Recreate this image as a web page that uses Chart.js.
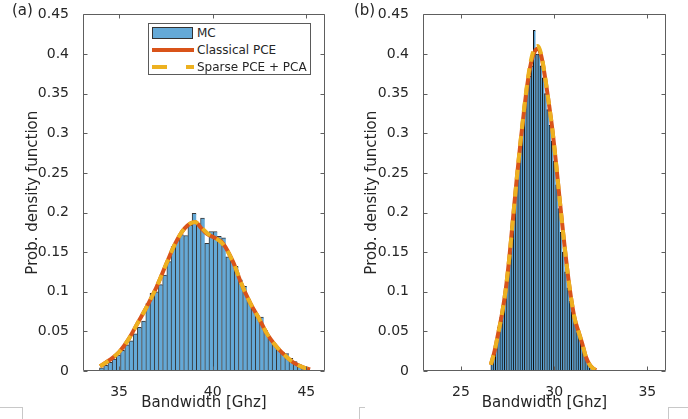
<!DOCTYPE html>
<html>
<head>
<meta charset="utf-8">
<script src="https://cdn.jsdelivr.net/npm/chart.js@4.4.0/dist/chart.umd.min.js"></script>
<style>
html,body{margin:0;padding:0;background:#fff;}
body{width:688px;height:419px;overflow:hidden;position:relative;font-family:"DejaVu Sans",sans-serif;color:#262626;}
.panel{position:absolute;top:0;width:344px;height:419px;}
.plabel{position:absolute;top:1px;font-size:15px;line-height:18px;color:#262626;}
.legend{position:absolute;left:148px;top:23px;width:163px;height:52px;border:1px solid #5a5a5a;background:#fff;box-sizing:border-box;font-size:12px;color:#262626;}
.row{position:absolute;left:0;height:17px;width:100%;}
.row span{position:absolute;left:48px;top:0;line-height:17px;white-space:nowrap;}
.sw{position:absolute;}
.crop{position:absolute;border-color:#c8c8c8;border-style:solid;border-width:0;}
</style>
</head>
<body>
<div class="panel" style="left:0"><canvas id="ca" width="344" height="419"></canvas></div>
<div class="panel" style="left:344px"><canvas id="cb" width="344" height="419"></canvas></div>
<div class="plabel" style="left:12px">(a)</div>
<div class="plabel" style="left:354px">(b)</div>
<div class="legend">
  <div class="row" style="top:1px"><div class="sw" style="left:3px;top:2px;width:41px;height:12px;background:rgb(100,169,215);border:1px solid #333;box-sizing:border-box"></div><span>MC</span></div>
  <div class="row" style="top:18px"><div class="sw" style="left:3px;top:6px;width:42px;height:4px;background:#D95319"></div><span>Classical PCE</span></div>
  <div class="row" style="top:35px"><div class="sw" style="left:3px;top:6px;width:15px;height:4px;background:#EDB120"></div><div class="sw" style="left:37px;top:6px;width:8px;height:4px;background:#EDB120"></div><span>Sparse PCE + PCA</span></div>
</div>
<div class="crop" style="left:0;top:407px;width:22px;height:12px;border-top-width:1px;border-right-width:1px"></div>
<div class="crop" style="left:359px;top:407px;width:5px;height:12px;border-top-width:1px;border-left-width:1px"></div>
<div class="crop" style="left:668px;top:407px;width:20px;height:12px;border-top-width:1px;border-left-width:1px"></div>
<script>
// ---------- data ----------
const xLabel = 'Bandwidth [Ghz]';
const yLabel = 'Prob. density function';
const yTicks = [0, 0.05, 0.1, 0.15, 0.2, 0.25, 0.3, 0.35, 0.4, 0.45];

// (a)
const xTicksA = [35, 40, 45];
const binCentersA = [34.0625,34.2875,34.5125,34.7375,34.9625,35.1875,35.4125,35.6375,35.8625,36.0875,
  36.3125,36.5375,36.7625,36.9875,37.2125,37.4375,37.6625,37.8875,38.1125,38.3375,
  38.5625,38.7875,39.0125,39.2375,39.4625,39.6875,39.9125,40.1375,40.3625,40.5875,
  40.8125,41.0375,41.2625,41.4875,41.7125,41.9375,42.1625,42.3875,42.6125,42.8375,
  43.0625,43.2875,43.5125,43.7375,43.9625,44.1875,44.4125,44.6375,44.8625,45.0875];
const mcA = [0.004,0.007,0.011,0.015,0.020,0.026,0.033,0.038,0.047,0.055,
  0.063,0.085,0.098,0.100,0.109,0.121,0.138,0.157,0.165,0.172,
  0.171,0.184,0.199,0.186,0.193,0.161,0.176,0.176,0.170,0.168,
  0.144,0.140,0.132,0.115,0.107,0.090,0.078,0.070,0.068,0.051,
  0.041,0.034,0.028,0.024,0.022,0.016,0.012,0.008,0.005,0.002];
const curveXA = [33.98,34.5,35.0,35.5,36.0,36.5,37.0,37.5,38.0,38.5,39.06,39.4,39.7,40.2,40.55,41.1,41.5,42.0,42.5,42.9,43.4,43.8,44.3,44.8,45.2];
const classicalA = [0.006,0.014,0.024,0.040,0.061,0.082,0.106,0.134,0.161,0.180,0.188,0.180,0.173,0.167,0.161,0.137,0.112,0.086,0.065,0.047,0.031,0.021,0.011,0.005,0.002];
const sparseA    = [0.006,0.014,0.024,0.040,0.061,0.082,0.106,0.134,0.161,0.180,0.188,0.181,0.174,0.167,0.160,0.137,0.112,0.086,0.065,0.047,0.031,0.021,0.011,0.005,0.002];

// (b)
const xTicksB = [25, 30, 35];
const binCentersB = [26.66,26.78,26.90,27.02,27.14,27.26,27.38,27.50,27.62,27.74,
  27.86,27.98,28.10,28.22,28.34,28.46,28.58,28.70,28.82,28.94,
  29.06,29.18,29.30,29.42,29.54,29.66,29.78,29.90,30.02,30.14,
  30.26,30.38,30.50,30.62,30.74,30.86,30.98,31.10,31.22,31.34,
  31.46,31.58,31.70,31.82,31.94];
const mcB = [0.012,0.025,0.040,0.055,0.068,0.083,0.100,0.122,0.150,0.183,
  0.213,0.240,0.266,0.293,0.320,0.345,0.365,0.372,0.385,0.430,
  0.400,0.400,0.385,0.370,0.350,0.330,0.310,0.290,0.265,0.235,
  0.205,0.175,0.150,0.125,0.105,0.088,0.075,0.065,0.055,0.045,
  0.036,0.025,0.016,0.009,0.004];
const curveXB = [26.6,26.8,27.0,27.2,27.4,27.6,27.8,28.0,28.2,28.4,28.6,28.8,29.0,29.12,29.3,29.5,29.7,29.9,30.1,30.3,30.5,30.7,30.9,31.1,31.3,31.5,31.7,31.9,32.1,32.25];
const classicalB = [0.008,0.025,0.048,0.072,0.103,0.145,0.195,0.245,0.290,0.332,0.368,0.393,0.405,0.407,0.398,0.372,0.340,0.305,0.262,0.215,0.170,0.128,0.093,0.066,0.050,0.035,0.018,0.008,0.003,0.001];
const sparseB    = [0.008,0.025,0.048,0.072,0.103,0.145,0.195,0.245,0.291,0.334,0.371,0.397,0.409,0.410,0.400,0.373,0.340,0.305,0.262,0.215,0.170,0.128,0.093,0.066,0.050,0.035,0.018,0.008,0.003,0.001];

// ---------- drawing ----------
const TXT = '#262626';
Chart.defaults.font.family = '"DejaVu Sans", sans-serif';
Chart.defaults.color = TXT;

function pts(xs, ys) { return xs.map((x, i) => ({ x: x, y: ys[i] })); }

const boxPlugin = {
  id: 'matlabBox',
  afterDatasetsDraw(chart) {
    const { ctx, chartArea: a, scales } = chart;
    const xs = scales.x, ys = scales.y;
    ctx.save();
    ctx.strokeStyle = '#5e5e5e';
    ctx.lineWidth = 1;
    const L = Math.round(a.left) + 0.5, R = Math.round(a.right) - 0.5;
    const T = Math.round(a.top) + 0.5, B = Math.round(a.bottom) - 0.5;
    ctx.beginPath();
    ctx.rect(L, T, R - L, B - T);
    const tl = 4;
    xs.ticks.forEach(t => {
      const p = Math.round(xs.getPixelForValue(t.value)) + 0.5;
      ctx.moveTo(p, B); ctx.lineTo(p, B - tl);
      ctx.moveTo(p, T); ctx.lineTo(p, T + tl);
    });
    ys.ticks.forEach(t => {
      const p = Math.round(ys.getPixelForValue(t.value)) + 0.5;
      ctx.moveTo(L, p); ctx.lineTo(L + tl, p);
      ctx.moveTo(R, p); ctx.lineTo(R - tl, p);
    });
    ctx.stroke();
    ctx.restore();
  }
};

function makeChart(id, cfg) {
  return new Chart(document.getElementById(id), {
    type: 'bar',
    data: {
      datasets: [
        { type: 'line', label: 'Sparse PCE + PCA', data: pts(cfg.cx, cfg.sparse), borderColor: '#EDB120', borderWidth: 4,
          borderDash: [10, 7], pointRadius: 0, fill: false, cubicInterpolationMode: 'monotone', order: 1, borderCapStyle: 'butt' },
        { type: 'line', label: 'Classical PCE', data: pts(cfg.cx, cfg.classical), borderColor: '#D95319', borderWidth: 4,
          pointRadius: 0, fill: false, cubicInterpolationMode: 'monotone', order: 2 },
        { type: 'bar', label: 'MC', data: pts(cfg.bx, cfg.mc), backgroundColor: cfg.barFill,
          borderColor: cfg.barEdge, borderWidth: { left: 1, top: 1, right: 0, bottom: 0 }, borderSkipped: false,
          barPercentage: 1, categoryPercentage: 1, order: 3 }
      ]
    },
    options: {
      responsive: false, animation: false, devicePixelRatio: 1,
      layout: { padding: { left: 0, right: cfg.padRight, top: 9, bottom: 0 } },
      plugins: { legend: { display: false }, tooltip: { enabled: false } },
      scales: {
        x: {
          type: 'linear', min: cfg.xmin, max: cfg.xmax, offset: false,
          grid: { display: false }, border: { display: false },
          ticks: { padding: 5, color: TXT, font: { size: 14 }, maxRotation: 0, autoSkip: false, callback: v => String(v) },
          afterBuildTicks: s => { s.ticks = cfg.xt.map(v => ({ value: v })); },
          title: { display: true, text: xLabel, color: TXT, font: { size: 15 }, padding: { top: 0, bottom: 7 } },
          afterFit: s => { s.height = 48; }
        },
        y: {
          type: 'linear', min: 0, max: 0.45,
          grid: { display: false }, border: { display: false },
          ticks: { padding: 6, color: TXT, font: { size: 14 }, autoSkip: false, callback: v => String(Number(v.toFixed(2))) },
          afterBuildTicks: s => { s.ticks = yTicks.map(v => ({ value: v })); },
          title: { display: true, text: yLabel, color: TXT, font: { size: 15 }, padding: { top: cfg.titlePad, bottom: 0 } },
          afterFit: s => { s.width = cfg.yw; }
        }
      }
    },
    plugins: [boxPlugin]
  });
}

makeChart('ca', { bx: binCentersA, mc: mcA, cx: curveXA, classical: classicalA, sparse: sparseA,
  xt: xTicksA, xmin: 33.07, xmax: 46.0, yw: 83, padRight: 19, titlePad: 24,
  barFill: 'rgb(100,169,215)', barEdge: 'rgba(20,20,20,0.85)' });
makeChart('cb', { bx: binCentersB, mc: mcB, cx: curveXB, classical: classicalB, sparse: sparseB,
  xt: xTicksB, xmin: 22.96, xmax: 36.0, yw: 79, padRight: 22, titlePad: 19,
  barFill: 'rgb(88,160,210)', barEdge: 'rgba(5,5,5,0.95)' });
</script>
</body>
</html>
